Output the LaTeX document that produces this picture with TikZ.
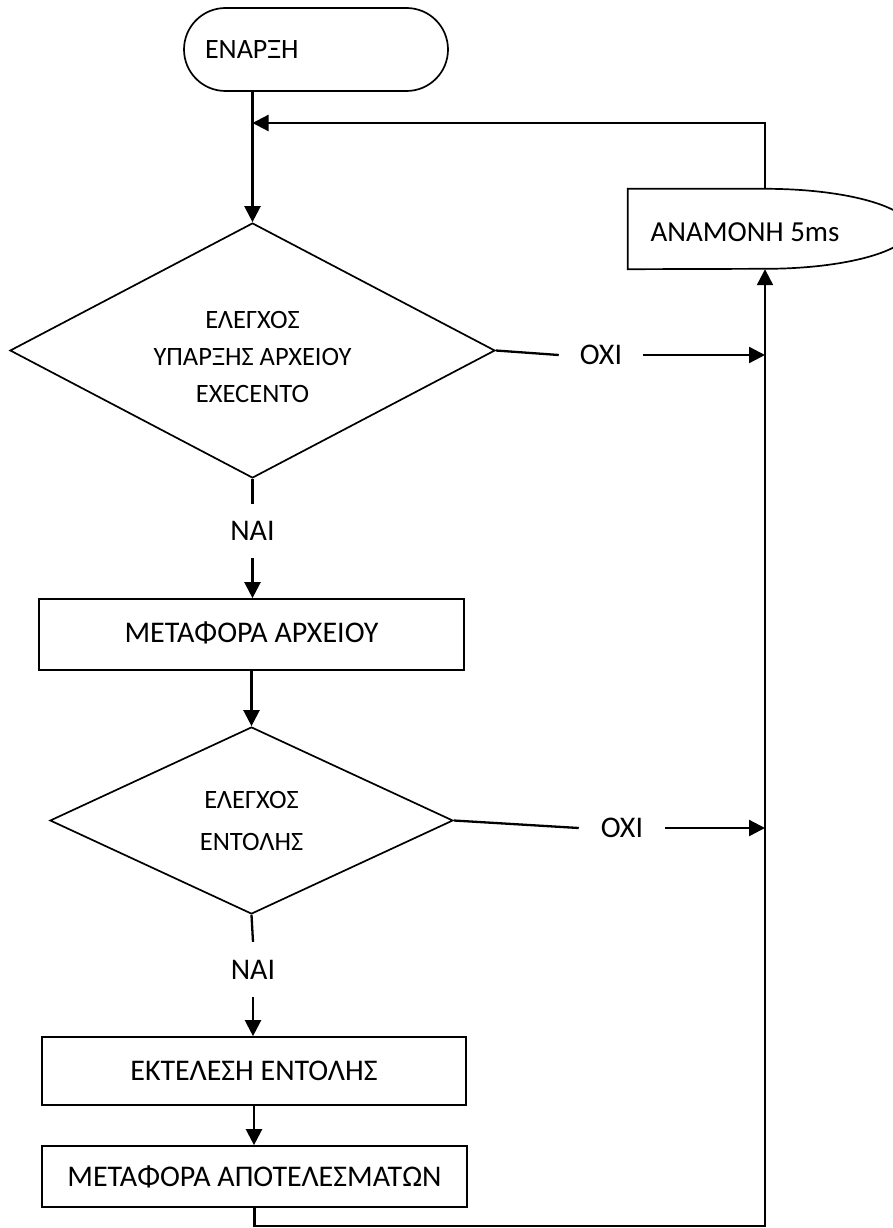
\documentclass[tikz,border=0pt]{standalone}
\usepackage{fontspec}
\setmainfont{Carlito}
\usetikzlibrary{shapes.geometric,arrows.meta}
\begin{document}
\begin{tikzpicture}[x=1pt,y=-1pt,
  every node/.style={font=\fontsize{29}{35}\selectfont},
  shp/.style={draw, line width=1.7pt},
  box/.style={shp, rectangle, inner sep=0pt, align=center, font=\fontsize{30}{36}\selectfont},
  dec/.style={shp, diamond, inner sep=0pt, align=center},
  con/.style={line width=2.3pt},
  arr/.style={con, -{Triangle[length=16pt,width=16pt]}},
  lbl/.style={inner sep=0pt, font=\fontsize{30}{36}\selectfont}
]
\useasboundingbox (0,0) rectangle (893,1228);

% start terminal
\node[shp, rounded corners=41.5pt, minimum width=264pt, minimum height=83pt,
      text width=222pt, align=left, inner xsep=21pt, inner ysep=0pt,
      font=\fontsize{28}{34}\selectfont] (start) at (316,49.5) {\raisebox{-3pt}{ΕΝΑΡΞΗ}};

% decision 1
\node[dec, minimum width=485pt, minimum height=255pt, shape aspect=1.9,
      font=\fontsize{26.5}{37}\selectfont] (d1) at (252.5,350.5)
      {\\[-0pt]ΕΛΕΓΧΟΣ\\ΥΠΑΡΞΗΣ ΑΡΧΕΙΟΥ\\EXECENTO\\[-29pt]};

% wait shape
\node[minimum width=137pt, minimum height=80pt, inner sep=0pt] (wait) at (696.5,229) {};
\draw[shp] (wait.north west) -- (wait.north east)
  arc[start angle=-90, end angle=90, x radius=145, y radius=40]
  -- (wait.south west) -- cycle;
\node[lbl, font=\fontsize{29}{35}\selectfont] (waittxt) at (745,232) {ΑΝΑΜΟΝΗ 5ms};

% box 1
\node[box, minimum width=425pt, minimum height=71pt] (b1) at (251.5,634.5) {\raisebox{4pt}{ΜΕΤΑΦΟΡΑ ΑΡΧΕΙΟΥ}};

% decision 2
\node[dec, minimum width=403pt, minimum height=187pt, shape aspect=2.15,
      font=\fontsize{26.5}{42}\selectfont] (d2) at (251.5,820.5)
      {ΕΛΕΓΧΟΣ\\ΕΝΤΟΛΗΣ};

% box 2 and 3
\node[box, minimum width=424pt, minimum height=68pt] (b2) at (254,1071) {ΕΚΤΕΛΕΣΗ ΕΝΤΟΛΗΣ};
\node[box, minimum width=425pt, minimum height=61pt] (b3) at (254.5,1176.5) {ΜΕΤΑΦΟΡΑ ΑΠΟΤΕΛΕΣΜΑΤΩΝ};

% labels
\node[lbl, inner xsep=21pt] (no1) at (601,355) {ΟΧΙ};
\node[lbl, inner xsep=22pt] (no2) at (622,828) {ΟΧΙ};
\node[lbl, minimum height=54pt] (nai1) at (252.5,531) {ΝΑΙ};
\node[lbl, minimum height=55pt] (nai2) at (253,969.5) {ΝΑΙ};

% coordinates
\coordinate (fb) at (252.5,123);
\coordinate (br) at (765,1226);

% connectors
\draw[arr] (d1.north |- start.south) -- (d1.north);
\draw[arr] (wait.north east) |- (fb);
\draw[con] (d1.east) -- (no1.west);
\draw[arr] (no1.east) -- (no1.east -| br);
\draw[con] (d1.south) -- (nai1.north);
\draw[arr] (nai1.south) -- (nai1.south |- b1.north);
\draw[arr] (b1.south) -- (b1.south |- d2.north);
\draw[con] (d2.east) -- (no2.west);
\draw[arr] (no2.east) -- (no2.east -| br);
\draw[con] (d2.south) -- (nai2.north);
\draw[arr] (nai2.south) -- (nai2.south |- b2.north);
\draw[arr] (b2.south) -- (b2.south |- b3.north);
\draw[arr] (b3.south) -- (b3.south |- br) -- (br) -- (br |- wait.south);
\end{tikzpicture}
\end{document}
